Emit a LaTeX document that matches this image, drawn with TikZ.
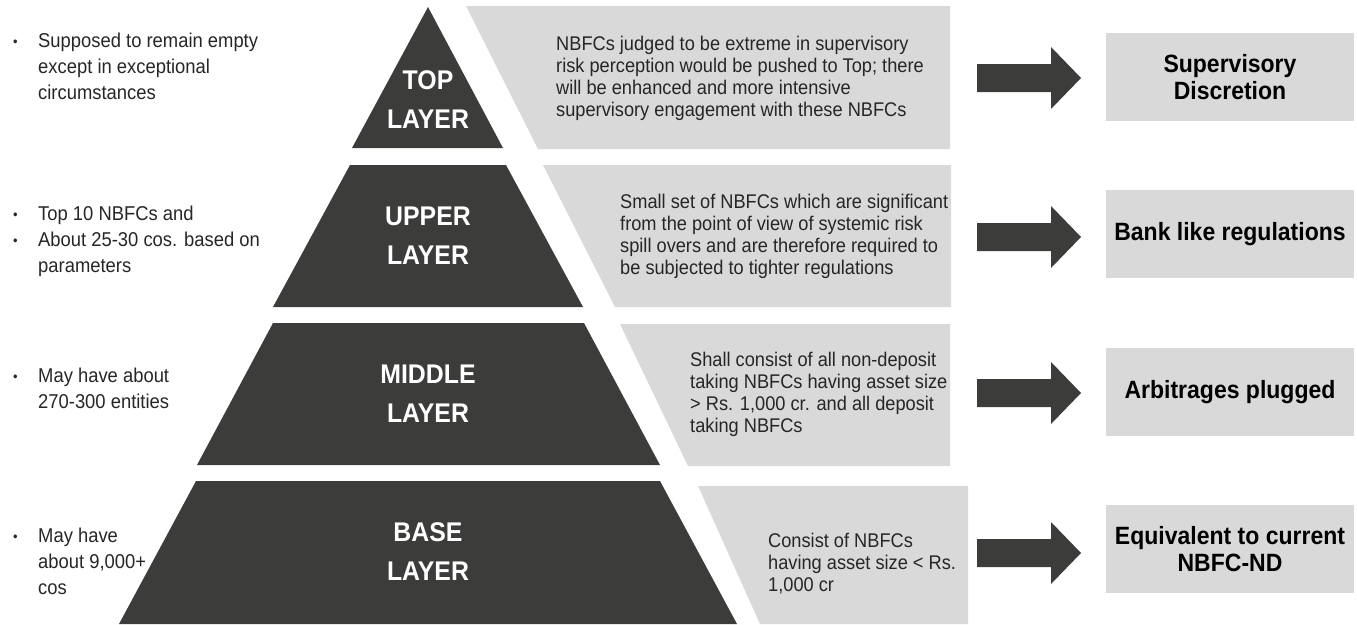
\documentclass[tikz,border=0pt]{standalone}
\usepackage{fontspec}
\setmainfont{Liberation Sans}[FakeStretch=0.92]
\usepackage{xcolor}
\usetikzlibrary{positioning}

\definecolor{pyrgray}{HTML}{3C3C3B}
\definecolor{panelgray}{HTML}{D9D9D9}
\definecolor{txtgray}{HTML}{262626}

\newcommand\bul{\makebox[26pt][l]{\hspace*{1pt}\raisebox{0.05ex}{\fontsize{14}{14}\selectfont\textbullet}}}
\newcommand\ind{\hspace*{26pt}}

\tikzset{
  layer/.style={fill=pyrgray},
  panel/.style={fill=panelgray},
  layerlabel/.style={text=white, font=\fontsize{27}{39}\selectfont\bfseries, align=center, inner sep=0},
  note/.style={text=txtgray, font=\fontsize{19.8}{22}\selectfont, align=left, anchor=west, inner sep=0},
  side/.style={text=txtgray, font=\fontsize{20}{26}\selectfont, align=left, anchor=west, inner sep=0},
  result/.style={fill=panelgray, minimum width=248, minimum height=88, text=black,
    font=\fontsize{25}{27}\selectfont\bfseries, align=center, inner sep=0},
}

\begin{document}
\begin{tikzpicture}[x=1pt,y=-1pt]
  \useasboundingbox (0,0) rectangle (1357,624);

  % pyramid
  \fill[layer] (428,7) -- (503,148) -- (352,148) -- cycle;
  \fill[layer] (350,165) -- (506,165) -- (583,307) -- (273,307) -- cycle;
  \fill[layer] (273,323) -- (584,323) -- (660,465) -- (197,465) -- cycle;
  \fill[layer] (196,481) -- (660,481) -- (737,624) -- (119,624) -- cycle;
  \node[layerlabel] (top) at (428,100) {TOP\\LAYER};
  \node[layerlabel] (upper) at (428,236) {UPPER\\LAYER};
  \node[layerlabel] (middle) at (428,394) {MIDDLE\\LAYER};
  \node[layerlabel] (base) at (428,552) {BASE\\LAYER};

  % grey panels
  \fill[panel] (466,6) -- (950,6) -- (950,149) -- (538,149) -- cycle;
  \fill[panel] (543,165) -- (951,165) -- (951,307) -- (615,307) -- cycle;
  \fill[panel] (620,324) -- (950,324) -- (950,466) -- (688,466) -- cycle;
  \fill[panel] (698,486) -- (968,486) -- (968,624) -- (760,624) -- cycle;
  \node[note] (topnote) at (556,78) {NBFCs judged to be extreme in supervisory\\
    risk perception would be pushed to Top; there\\will be enhanced and more intensive\\
    supervisory engagement with these NBFCs};
  \node[note] (uppernote) at (620,236) {Small set of NBFCs which are significant\\
    from the point of view of systemic risk\\spill overs and are therefore required to\\
    be subjected to tighter regulations};
  \node[note] (middlenote) at (690,394) {Shall consist of all non-deposit\\
    taking NBFCs having asset size\\> Rs. 1,000 cr. and all deposit\\taking NBFCs};
  \node[note] (basenote) at (768,564) {Consist of NBFCs\\having asset size < Rs.\\1,000 cr};

  % left bullets
  \node[side] (topside) at (12,66) {\bul Supposed to remain empty\\\ind except in exceptional\\\ind circumstances};
  \node[side] (upperside) at (12,241) {\bul Top 10 NBFCs and\\\bul About 25-30 cos. based on\\\ind parameters};
  \node[side] (middleside) at (12,388) {\bul May have about\\\ind 270-300 entities};
  \node[side] (baseside) at (12,561) {\bul May have\\\ind about 9,000+\\\ind cos};

  % outcomes
  \node[result] (res1) at (1230,77) {Supervisory\\Discretion};
  \node[result] (res2) at (1230,234) {Bank like regulations};
  \node[result] (res3) at (1230,392) {Arbitrages plugged};
  \node[result] (res4) at (1230,549) {Equivalent to current\\NBFC-ND};

  % block arrows
  \foreach \y in {78,237,393,553}
    \fill[pyrgray] (977,\y-14) -- (1051,\y-14) -- (1051,\y-31) -- (1081,\y)
      -- (1051,\y+31) -- (1051,\y+14) -- (977,\y+14) -- cycle;
\end{tikzpicture}
\end{document}
